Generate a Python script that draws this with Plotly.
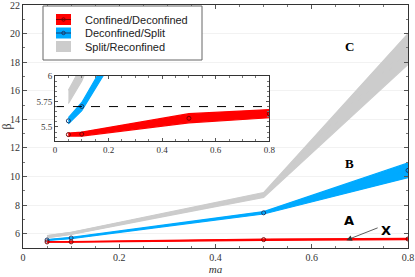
import plotly.graph_objects as go

# ---- data ----
ma = [0.05, 0.1, 0.5, 0.8]
red_lo = [5.41, 5.41, 5.54, 5.59]
red_hi = [5.44, 5.45, 5.63, 5.67]
red_mid = [5.425, 5.43, 5.585, 5.63]
blue_lo = [5.53, 5.66, 7.38, 9.92]
blue_hi = [5.59, 5.74, 7.55, 10.95]
blue_mid = [5.56, 5.70, 7.46, 10.43]
grey_lo = [5.73, 5.95, 8.54, 17.85]
grey_hi = [5.86, 6.10, 8.88, 20.0]
dashed_level = 5.70

x_ticks = [0, 0.2, 0.4, 0.6, 0.8]
x_tick_text = ["0", "0.2", "0.4", "0.6", "0.8"]
y_ticks = [6, 8, 10, 12, 14, 16, 18, 20, 22]
inset_y_ticks = [5.5, 5.75, 6]
inset_y_text = ["5.5", "5.75", "6"]

RED = "#ff0000"
BLUE = "#00aaff"
GREY = "#cccccc"
SERIF = "Liberation Serif"
SANS = "Liberation Sans"

# plot-area pixel geometry
L, R, T, B = 23, 7, 5, 29
W, H = 415, 277
PW, PH = W - L - R, H - T - B

fig = go.Figure()


def band(lo, hi, color, xa, ya):
    fig.add_trace(go.Scatter(
        x=ma + ma[::-1], y=lo + hi[::-1], fill="toself", fillcolor=color,
        line=dict(color=color, width=1.2), mode="lines", showlegend=False,
        xaxis=xa, yaxis=ya, hoverinfo="skip"))


def centre(mid, color, mcolor, xa, ya, lw):
    fig.add_trace(go.Scatter(
        x=ma, y=mid, mode="lines+markers",
        line=dict(color=color, width=lw),
        marker=dict(symbol="circle-open", size=4, color=mcolor, line=dict(width=1)),
        showlegend=False, xaxis=xa, yaxis=ya))


def px(xp):
    return (xp - L) / PW


def py(yp):
    return (H - B - yp) / PH


# main
band(grey_lo, grey_hi, GREY, "x", "y")
fig.add_trace(go.Scatter(x=ma, y=[(a + b) / 2 for a, b in zip(grey_lo, grey_hi)],
                         mode="lines", line=dict(color=GREY, width=3),
                         showlegend=False, xaxis="x", yaxis="y"))
band(blue_lo, blue_hi, BLUE, "x", "y")
centre(blue_mid, BLUE, "#1a3a6a", "x", "y", 1.5)
band(red_lo, red_hi, RED, "x", "y")
centre(red_mid, RED, "#7a0000", "x", "y", 1.2)

# inset
band(grey_lo, grey_hi, GREY, "x2", "y2")
band(blue_lo, blue_hi, BLUE, "x2", "y2")
centre(blue_mid, BLUE, "#1a3a6a", "x2", "y2", 1)
band(red_lo, red_hi, RED, "x2", "y2")
centre(red_mid, RED, "#7a0000", "x2", "y2", 1)
fig.add_trace(go.Scatter(x=[0, 0.8], y=[dashed_level, dashed_level], mode="lines",
                         line=dict(color="black", width=1, dash="dash"),
                         showlegend=False, xaxis="x2", yaxis="y2"))

inset_x = [px(55), px(269.3)]
inset_y = [py(140.7), py(76)]

tickfont = dict(family=SERIF, size=10, color="#333")
fig.update_layout(
    width=W, height=H,
    margin=dict(l=L, r=R, t=T, b=B),
    paper_bgcolor="white", plot_bgcolor="white",
    showlegend=False,
    xaxis=dict(range=[0, 0.8], tickvals=x_ticks, ticktext=x_tick_text, automargin=False,
               ticks="inside", ticklen=4, tickcolor="#555", showline=True,
               linecolor="#333", mirror="ticks", showgrid=False, zeroline=False,
               tickfont=tickfont, ticklabeloverflow="allow",
               minor=dict(dtick=0.05, ticks="inside", ticklen=2, tickcolor="#777"),
               title=dict(text="<i>ma</i>", font=dict(family=SERIF, size=11, color="#333"),
                          standoff=2)),
    yaxis=dict(range=[5, 22], tickvals=y_ticks, ticks="inside", ticklen=4, automargin=False,
               tickcolor="#555", showline=True, linecolor="#333", mirror="ticks",
               showgrid=True, gridcolor="#f2f2f2", zeroline=False, tickfont=tickfont,
               ticklabeloverflow="allow",
               minor=dict(dtick=1, ticks="inside", ticklen=2, tickcolor="#777"),
               title=dict(text="β", font=dict(family=SERIF, size=12, color="#333"),
                          standoff=0)),
    xaxis2=dict(domain=inset_x, anchor="y2", range=[0, 0.8], automargin=False,
                tickvals=x_ticks, ticktext=x_tick_text, ticks="inside", ticklen=3,
                tickcolor="#555", showline=True, linecolor="#333", mirror="ticks",
                showgrid=False, zeroline=False,
                tickfont=dict(family=SERIF, size=9, color="#333"),
                minor=dict(dtick=0.05, ticks="inside", ticklen=2, tickcolor="#777")),
    yaxis2=dict(domain=inset_y, anchor="x2", range=[5.365, 6], automargin=False,
                tickvals=inset_y_ticks, ticktext=inset_y_text, ticks="inside",
                ticklen=3, tickcolor="#555", showline=True, linecolor="#333",
                mirror="ticks", showgrid=False, zeroline=False,
                tickfont=dict(family=SERIF, size=9, color="#333"),
                minor=dict(dtick=0.05, ticks="inside", ticklen=2, tickcolor="#777")),
)

# inset background
fig.add_shape(type="rect", xref="paper", yref="paper", x0=inset_x[0], x1=inset_x[1],
              y0=inset_y[0], y1=inset_y[1], fillcolor="white", line=dict(width=0),
              layer="below")

# region labels
for txt, xx, yy, fam in [("A", 0.678, 6.93, "DejaVu Sans"), ("B", 0.678, 10.9, SERIF),
                         ("C", 0.678, 19.1, SERIF), ("X", 0.755, 6.2, "DejaVu Sans")]:
    fig.add_annotation(x=xx, y=yy, xref="x", yref="y", text="<b>%s</b>" % txt,
                       showarrow=False, font=dict(family=fam, size=13, color="black"))
fig.add_annotation(x=0.672, y=5.55, ax=0.74, ay=6.45, xref="x", yref="y",
                   axref="x", ayref="y", text="", showarrow=True, arrowhead=2,
                   arrowsize=1.4, arrowwidth=0.8, arrowcolor="#333")

# custom legend
fig.add_shape(type="rect", xref="paper", yref="paper", x0=px(43), x1=px(202),
              y0=py(60), y1=py(6), line=dict(color="#666", width=1), fillcolor="white")
entries = [("Confined/Deconfined", RED, "#7a0000", True, 19.5),
           ("Deconfined/Split", BLUE, "#1a3a6a", True, 33),
           ("Split/Reconfined", GREY, None, False, 46.5)]
for label, col, mcol, has_line, yc in entries:
    fig.add_shape(type="rect", xref="paper", yref="paper", x0=px(56), x1=px(71),
                  y0=py(yc + 5.5), y1=py(yc - 5.5), fillcolor=col, line=dict(width=0))
    if has_line:
        fig.add_shape(type="line", xref="paper", yref="paper", x0=px(56), x1=px(71),
                      y0=py(yc), y1=py(yc), line=dict(color=mcol, width=1))
        fig.add_shape(type="circle", xref="paper", yref="paper", x0=px(61.8), x1=px(65.2),
                      y0=py(yc + 1.7), y1=py(yc - 1.7), line=dict(color=mcol, width=1))
    fig.add_annotation(x=px(83), y=py(yc), xref="paper", yref="paper", text=label,
                       showarrow=False, xanchor="left", yanchor="middle",
                       font=dict(family=SANS, size=11, color="#222"))

fig.write_html("out.html", post_script="document.body.style.margin='0px';",
               config={"displayModeBar": False})
